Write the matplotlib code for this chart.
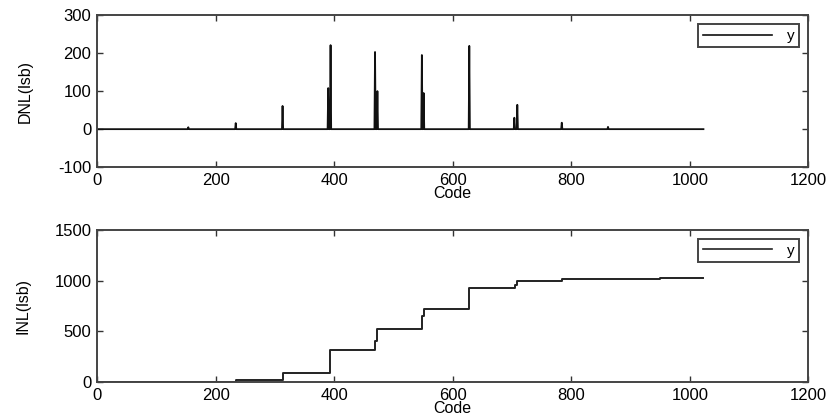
import matplotlib.pyplot as plt
import numpy as np

plt.rcParams['font.family'] = ['Liberation Sans', 'DejaVu Sans']
plt.rcParams['axes.unicode_minus'] = False

# DNL: spikes (code, height in lsb)
n_codes = 1024
spike_codes = [154, 234, 313, 390, 394, 469, 473, 548, 551, 628, 704, 709, 784, 862]
spike_vals = [5, 16, 61, 108, 221, 203, 100, 195, 95, 219, 30, 64, 17, 6]

# INL: staircase levels (code where a level starts, level in lsb)
inl_codes = [0, 235, 314, 393, 469, 473, 549, 552, 628, 705, 709, 785, 950, 1023]
inl_vals = [0, 24, 89, 313, 405, 518, 650, 725, 929, 960, 995, 1015, 1028, 1028]

x_ticks = [0, 200, 400, 600, 800, 1000, 1200]

code = np.arange(n_codes)
dnl = np.zeros(n_codes)
dnl[spike_codes] = spike_vals

fig = plt.figure(figsize=(8.32, 4.2), dpi=100)
ax1 = fig.add_axes([0.1166, 0.602, 0.855, 0.362])
ax2 = fig.add_axes([0.1166, 0.0905, 0.855, 0.362])

ax1.plot(code, dnl, color='#111111', lw=1.3, label='y')
ax1.set_xlim(0, 1200)
ax1.set_ylim(-100, 300)
ax1.set_yticks([-100, 0, 100, 200, 300])
ax1.set_ylabel('DNL(lsb)', fontsize=11.5)
ax1.yaxis.set_label_coords(-0.090, 0.5)

ax2.step(inl_codes, inl_vals, where='post', color='#222222', lw=1.4, label='y')
ax2.set_xlim(0, 1200)
ax2.set_ylim(0, 1500)
ax2.set_yticks([0, 500, 1000, 1500])
ax2.set_ylabel('INL(lsb)', fontsize=11.5)
ax2.yaxis.set_label_coords(-0.094, 0.5)

for ax in (ax1, ax2):
    ax.set_xticks(x_ticks)
    ax.set_xlabel('Code', fontsize=11.5, labelpad=-1)
    ax.tick_params(direction='in', top=True, right=True, labelsize=12,
                   length=4, width=1, color='#333333', pad=4)
    for s in ax.spines.values():
        s.set_linewidth(1.4)
        s.set_color('#444444')
    leg = ax.legend(loc='upper right', fancybox=False, edgecolor='#444444',
                    handlelength=4.5, handletextpad=1.0, fontsize=11,
                    borderaxespad=0.6, framealpha=1, borderpad=0.3)
    leg.get_frame().set_linewidth(1.4)
    for ln in leg.get_lines():
        ln.set_linewidth(1.2)

fig.savefig('out.png', dpi=100)
